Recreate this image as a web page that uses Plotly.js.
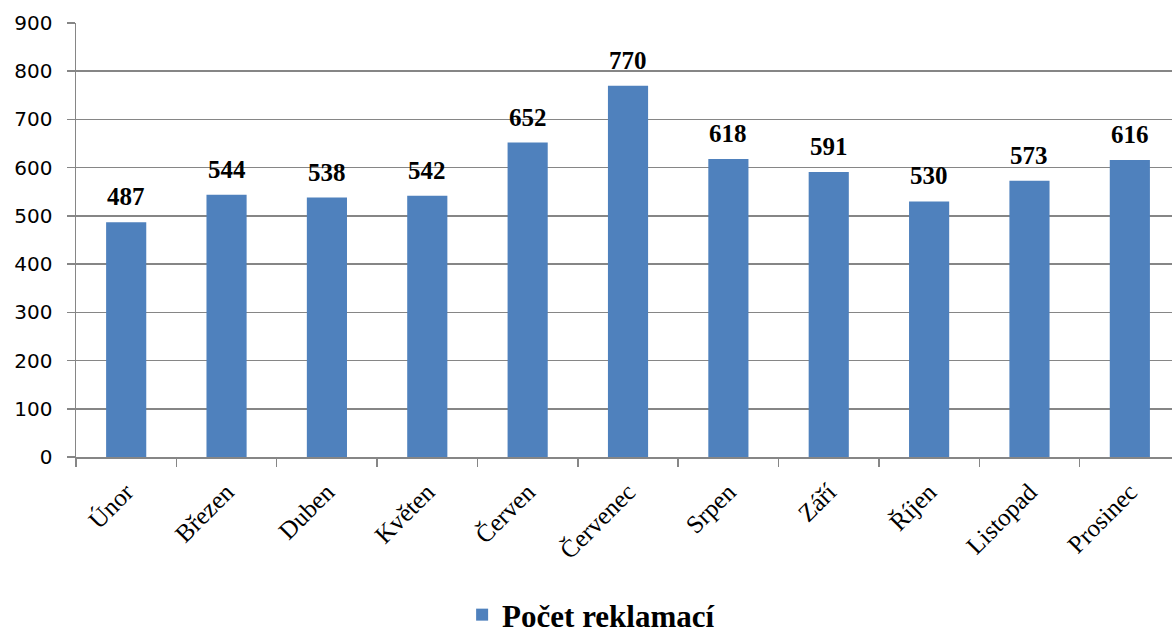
<!DOCTYPE html>
<html>
<head>
<meta charset="utf-8">
<script src="https://cdn.plot.ly/plotly-3.0.1.min.js"></script>
<style>html,body{margin:0;padding:0;background:#fff;}#chart{width:1172px;height:642px;}</style>
</head>
<body>
<div id="chart"></div>
<script>
const months = ["Únor","Březen","Duben","Květen","Červen","Červenec","Srpen","Září","Říjen","Listopad","Prosinec"];
const complaints = [487,544,538,542,652,770,618,591,530,573,616];
const seriesName = "Počet reklamací";
const yTicks = [0,100,200,300,400,500,600,700,800,900];

const trace = {
  type: "bar",
  x: months,
  y: complaints,
  name: seriesName,
  width: 0.4,
  marker: {color: "#4F81BD"},
  hoverinfo: "none"
};

const labelAnnotations = months.map((m, i) => ({
  x: m, y: complaints[i], xref: "x", yref: "y",
  text: String(complaints[i]),
  showarrow: false, yanchor: "bottom", yshift: 10,
  font: {family: "Liberation Serif", size: 25, color: "#000", weight: "bold"}
}));

const layout = {
  width: 1172, height: 642,
  margin: {l: 76, r: 0, t: 23, b: 185},
  paper_bgcolor: "#fff", plot_bgcolor: "#fff",
  showlegend: true,
  legend: {orientation: "h", xref: "paper", x: 0.47, xanchor: "center",
    yref: "container", y: 0, yanchor: "bottom",
    font: {family: "Liberation Serif", size: 31, color: "#000", weight: "bold"}},
  xaxis: {
    type: "category", range: [-0.5, 10.42], autorange: false,
    tickson: "boundaries", ticks: "outside", ticklen: 8, tickcolor: "#868686", tickwidth: 1.5,
    showline: true, linecolor: "#868686", linewidth: 1.5,
    showgrid: false, tickangle: -45, ticklabelstandoff: 9,
    tickfont: {family: "Liberation Serif", size: 25, color: "#000"}
  },
  yaxis: {
    range: [0, 900], autorange: false, tickvals: yTicks,
    ticks: "outside", ticklen: 8, tickcolor: "#868686", tickwidth: 1.5,
    showline: true, linecolor: "#868686", linewidth: 1.5,
    showgrid: true, gridcolor: "#868686", gridwidth: 1.5, zeroline: false,
    ticklabelstandoff: 10,
    tickfont: {family: "DejaVu Sans", size: 20, color: "#000"}
  },
  annotations: labelAnnotations
};

Plotly.newPlot("chart", [trace], layout, {staticPlot: true, displayModeBar: false});
</script>
</body>
</html>
